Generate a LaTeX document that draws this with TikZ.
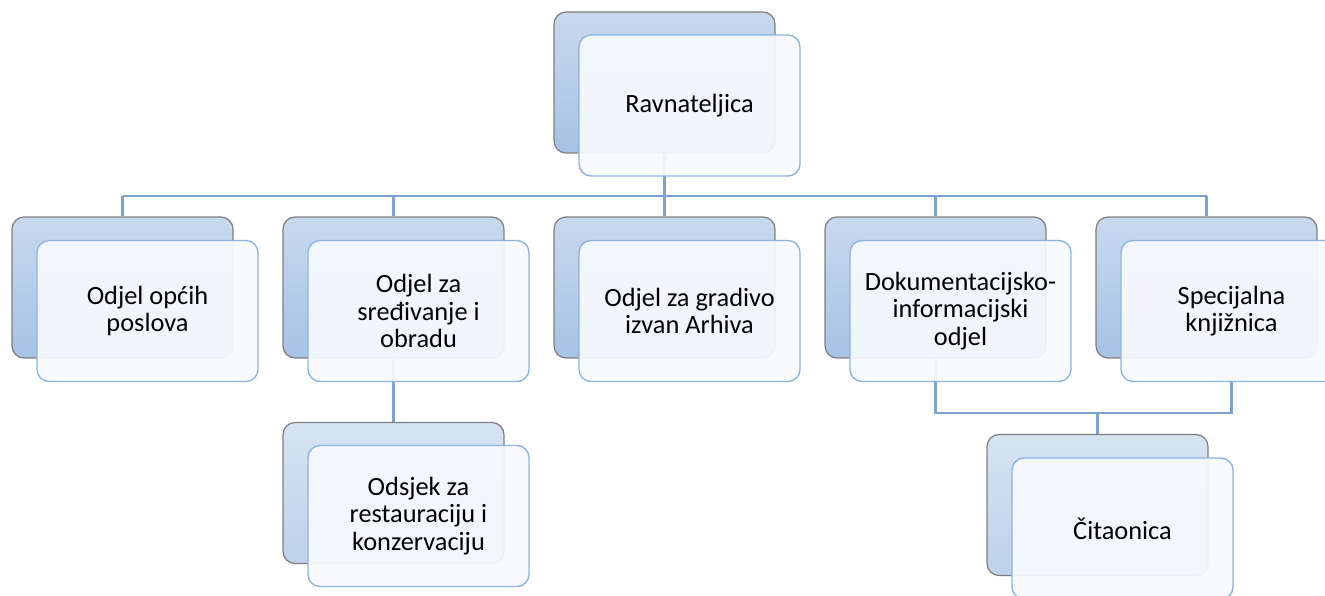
\documentclass[tikz,border=0pt]{standalone}
\usepackage{fontspec}
\setmainfont{Carlito}
\usetikzlibrary{backgrounds}
\definecolor{backedge}{HTML}{7F7F7F}
\definecolor{backtop}{HTML}{C8D9EE}
\definecolor{backbot}{HTML}{A6C2E5}
\definecolor{lighttop}{HTML}{D6E3F2}
\definecolor{lightbot}{HTML}{BDD1EB}
\definecolor{frontedge}{HTML}{8DB3E2}
\definecolor{frontfill}{HTML}{F7FAFD}
\definecolor{linkblue}{HTML}{7DA2D0}

\begin{document}
\begin{tikzpicture}[x=0.02cm,y=-0.02cm,
  backbox/.style={rounded corners=0.24cm,draw=backedge,line width=0.7pt,top color=backtop,bottom color=backbot,minimum width=4.42cm,minimum height=2.82cm,inner sep=0pt},
  lightbox/.style={backbox,top color=lighttop,bottom color=lightbot},
  frontbox/.style={rounded corners=0.24cm,draw=frontedge,line width=0.8pt,fill=frontfill,fill opacity=0.93,text opacity=1,minimum width=4.42cm,minimum height=2.82cm,inner sep=0pt,align=center,font=\fontsize{15}{15.5}\selectfont},
  link/.style={draw=linkblue,line width=1.5pt}]
 \useasboundingbox (0,0) rectangle (1325,595);
 \clip (0,0) rectangle (1325,595);

 \node [backbox] (b0) at (664.5,82.5) {};
 \node [frontbox] (f0) at (689.5,105.5) {Ravnateljica};

 \foreach \i/\txt in {1/{Odjel općih\\poslova},2/{Odjel za\\sređivanje i\\obradu},3/{Odjel za gradivo\\izvan Arhiva},4/{Dokumentacijsko-\\informacijski\\odjel},5/{Specijalna\\knjižnica}}
   {\node [backbox] (b\i) at ({122.5+271*(\i-1)},287.5) {};
    \node [frontbox] (f\i) at ({147.5+271*(\i-1)},311) {\txt};}

 \node [lightbox] (c1) at (393.5,493) {};
 \node [frontbox] (d1) at (418.5,516) {Odsjek za\\restauraciju i\\konzervaciju};
 \node [lightbox] (c2) at (1097.5,505) {};
 \node [frontbox] (d2) at (1122.5,528.5) {Čitaonica};

 \begin{scope}[on background layer]
  \coordinate (bus) at (0,196);
  \coordinate (jn) at (0,413);
  \draw [link] (b0.south) -- (b0.south |- bus);
  \draw [link] (b1.north |- bus) -- (b5.north |- bus);
  \foreach \i in {1,...,5}
    \draw [link] (b\i.north) -- (b\i.north |- bus);
  \draw [link] (b2.south) -- (c1.north);
  \draw [link] (b4.south) |- (jn -| f5.south) -- (f5.south);
  \draw [link] (c2.north) -- (c2.north |- jn);
 \end{scope}
\end{tikzpicture}
\end{document}
